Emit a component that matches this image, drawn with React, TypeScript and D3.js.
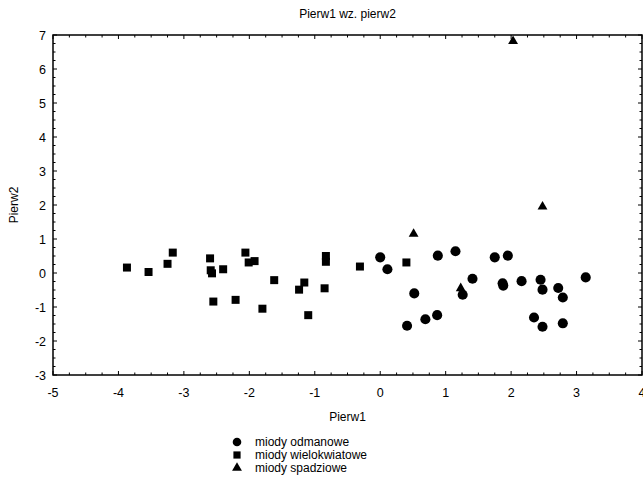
import React from 'react';
import * as d3 from 'd3';

// Pierw1 / Pierw2 scores
const odmanoweX = [0.0, 0.11, 0.52, 0.41, 0.69, 0.87, 0.88, 1.15, 1.41, 1.26, 1.75, 1.95, 1.87, 1.88, 2.16, 2.45, 2.48, 2.72, 2.79, 3.14, 2.35, 2.48, 2.79];
const odmanoweY = [0.46, 0.11, -0.6, -1.55, -1.36, -1.24, 0.51, 0.64, -0.17, -0.64, 0.46, 0.51, -0.3, -0.37, -0.24, -0.2, -0.49, -0.44, -0.72, -0.13, -1.31, -1.58, -1.48];

const wielokwiatoweX = [-3.87, -3.54, -3.25, -3.17, -2.6, -2.59, -2.57, -2.4, -2.55, -2.21, -2.06, -2.01, -1.92, -1.62, -1.8, -1.16, -1.24, -1.1, -0.83, -0.83, -0.85, -0.31, 0.4];
const wielokwiatoweY = [0.16, 0.03, 0.27, 0.6, 0.43, 0.08, -0.01, 0.11, -0.84, -0.79, 0.6, 0.31, 0.35, -0.21, -1.05, -0.28, -0.49, -1.24, 0.5, 0.33, -0.45, 0.19, 0.31];

const spadzioweX = [2.03, 2.48, 0.51, 1.23];
const spadzioweY = [6.82, 1.95, 1.15, -0.45];

const xTicks = [-5, -4, -3, -2, -1, 0, 1, 2, 3, 4];
const yTicks = [-3, -2, -1, 0, 1, 2, 3, 4, 5, 6, 7];

const legendLabels = ['miody odmanowe', 'miody wielokwiatowe', 'miody spadziowe'];

const font = '"Liberation Sans", Arial, sans-serif';

export default function App() {
  const width = 643;
  const height = 485;
  const left = 53;
  const right = 642;
  const top = 35;
  const bottom = 375;

  const x = d3.scaleLinear().domain([-5, 4]).range([left, right]);
  const y = d3.scaleLinear().domain([-3, 7]).range([bottom, top]);

  const circle = d3.symbol().type(d3.symbolCircle).size(80)();
  const square = d3.symbol().type(d3.symbolSquare).size(64)();
  const triangle = d3.symbol().type(d3.symbolTriangle).size(42)();
  const shapes = [circle, square, triangle];

  const series = [
    { xs: odmanoweX, ys: odmanoweY, path: circle },
    { xs: wielokwiatoweX, ys: wielokwiatoweY, path: square },
    { xs: spadzioweX, ys: spadzioweY, path: triangle },
  ];

  const xMinor = d3.range(-5, 4.001, 0.25);
  const yMinor = d3.range(-3, 7.001, 0.25);
  const isMajor = (v: number) => Math.abs(v - Math.round(v)) < 1e-6;

  return (
    <svg width={width} height={height} style={{ position: 'absolute', left: 0, top: 0 }} fontFamily={font}>
      <rect width={width} height={height} fill='#ffffff' />

      {/* title */}
      <text x={(left + right) / 2} y={18} textAnchor='middle' fontSize={12}>Pierw1 wz. pierw2</text>

      {/* ticks, pointing inward on all four sides */}
      <g stroke='#000' strokeWidth={1}>
        {xMinor.map(v => {
          const len = isMajor(v) ? 4 : 2.5;
          return (
            <g key={'x' + v}>
              <line x1={x(v)} x2={x(v)} y1={bottom} y2={bottom - len} />
              <line x1={x(v)} x2={x(v)} y1={top} y2={top + len} />
            </g>
          );
        })}
        {yMinor.map(v => {
          const len = isMajor(v) ? 4 : 2.5;
          return (
            <g key={'y' + v}>
              <line x1={left} x2={left + len} y1={y(v)} y2={y(v)} />
              <line x1={right} x2={right - len} y1={y(v)} y2={y(v)} />
            </g>
          );
        })}
      </g>

      {/* frame */}
      <rect x={left} y={top} width={right - left} height={bottom - top} fill='none' stroke='#000' strokeWidth={1.5} />

      {/* tick labels */}
      {xTicks.map(t => (
        <text key={'xl' + t} x={x(t)} y={397} textAnchor='middle' fontSize={12.5}>{t}</text>
      ))}
      {yTicks.map(t => (
        <text key={'yl' + t} x={46} y={y(t) + 4.5} textAnchor='end' fontSize={12.5}>{t}</text>
      ))}

      {/* axis titles */}
      <text x={(left + right) / 2} y={421} textAnchor='middle' fontSize={12}>Pierw1</text>
      <text transform={`translate(18,${(top + bottom) / 2}) rotate(-90)`} textAnchor='middle' fontSize={12}>Pierw2</text>

      {/* points */}
      {series.map((s, si) => (
        <g key={'s' + si} fill='#000'>
          {s.xs.map((v, i) => (
            <path key={i} d={s.path} transform={`translate(${x(v)},${y(s.ys[i])})`} />
          ))}
        </g>
      ))}

      {/* legend */}
      {legendLabels.map((label, i) => (
        <g key={label} transform={`translate(237,${442 + i * 13})`}>
          <path d={shapes[i]} transform={i === 0 ? 'scale(0.85)' : i === 1 ? 'scale(0.9)' : 'scale(1)'} fill='#000' />
          <text x={18} y={4} fontSize={12}>{label}</text>
        </g>
      ))}
    </svg>
  );
}
